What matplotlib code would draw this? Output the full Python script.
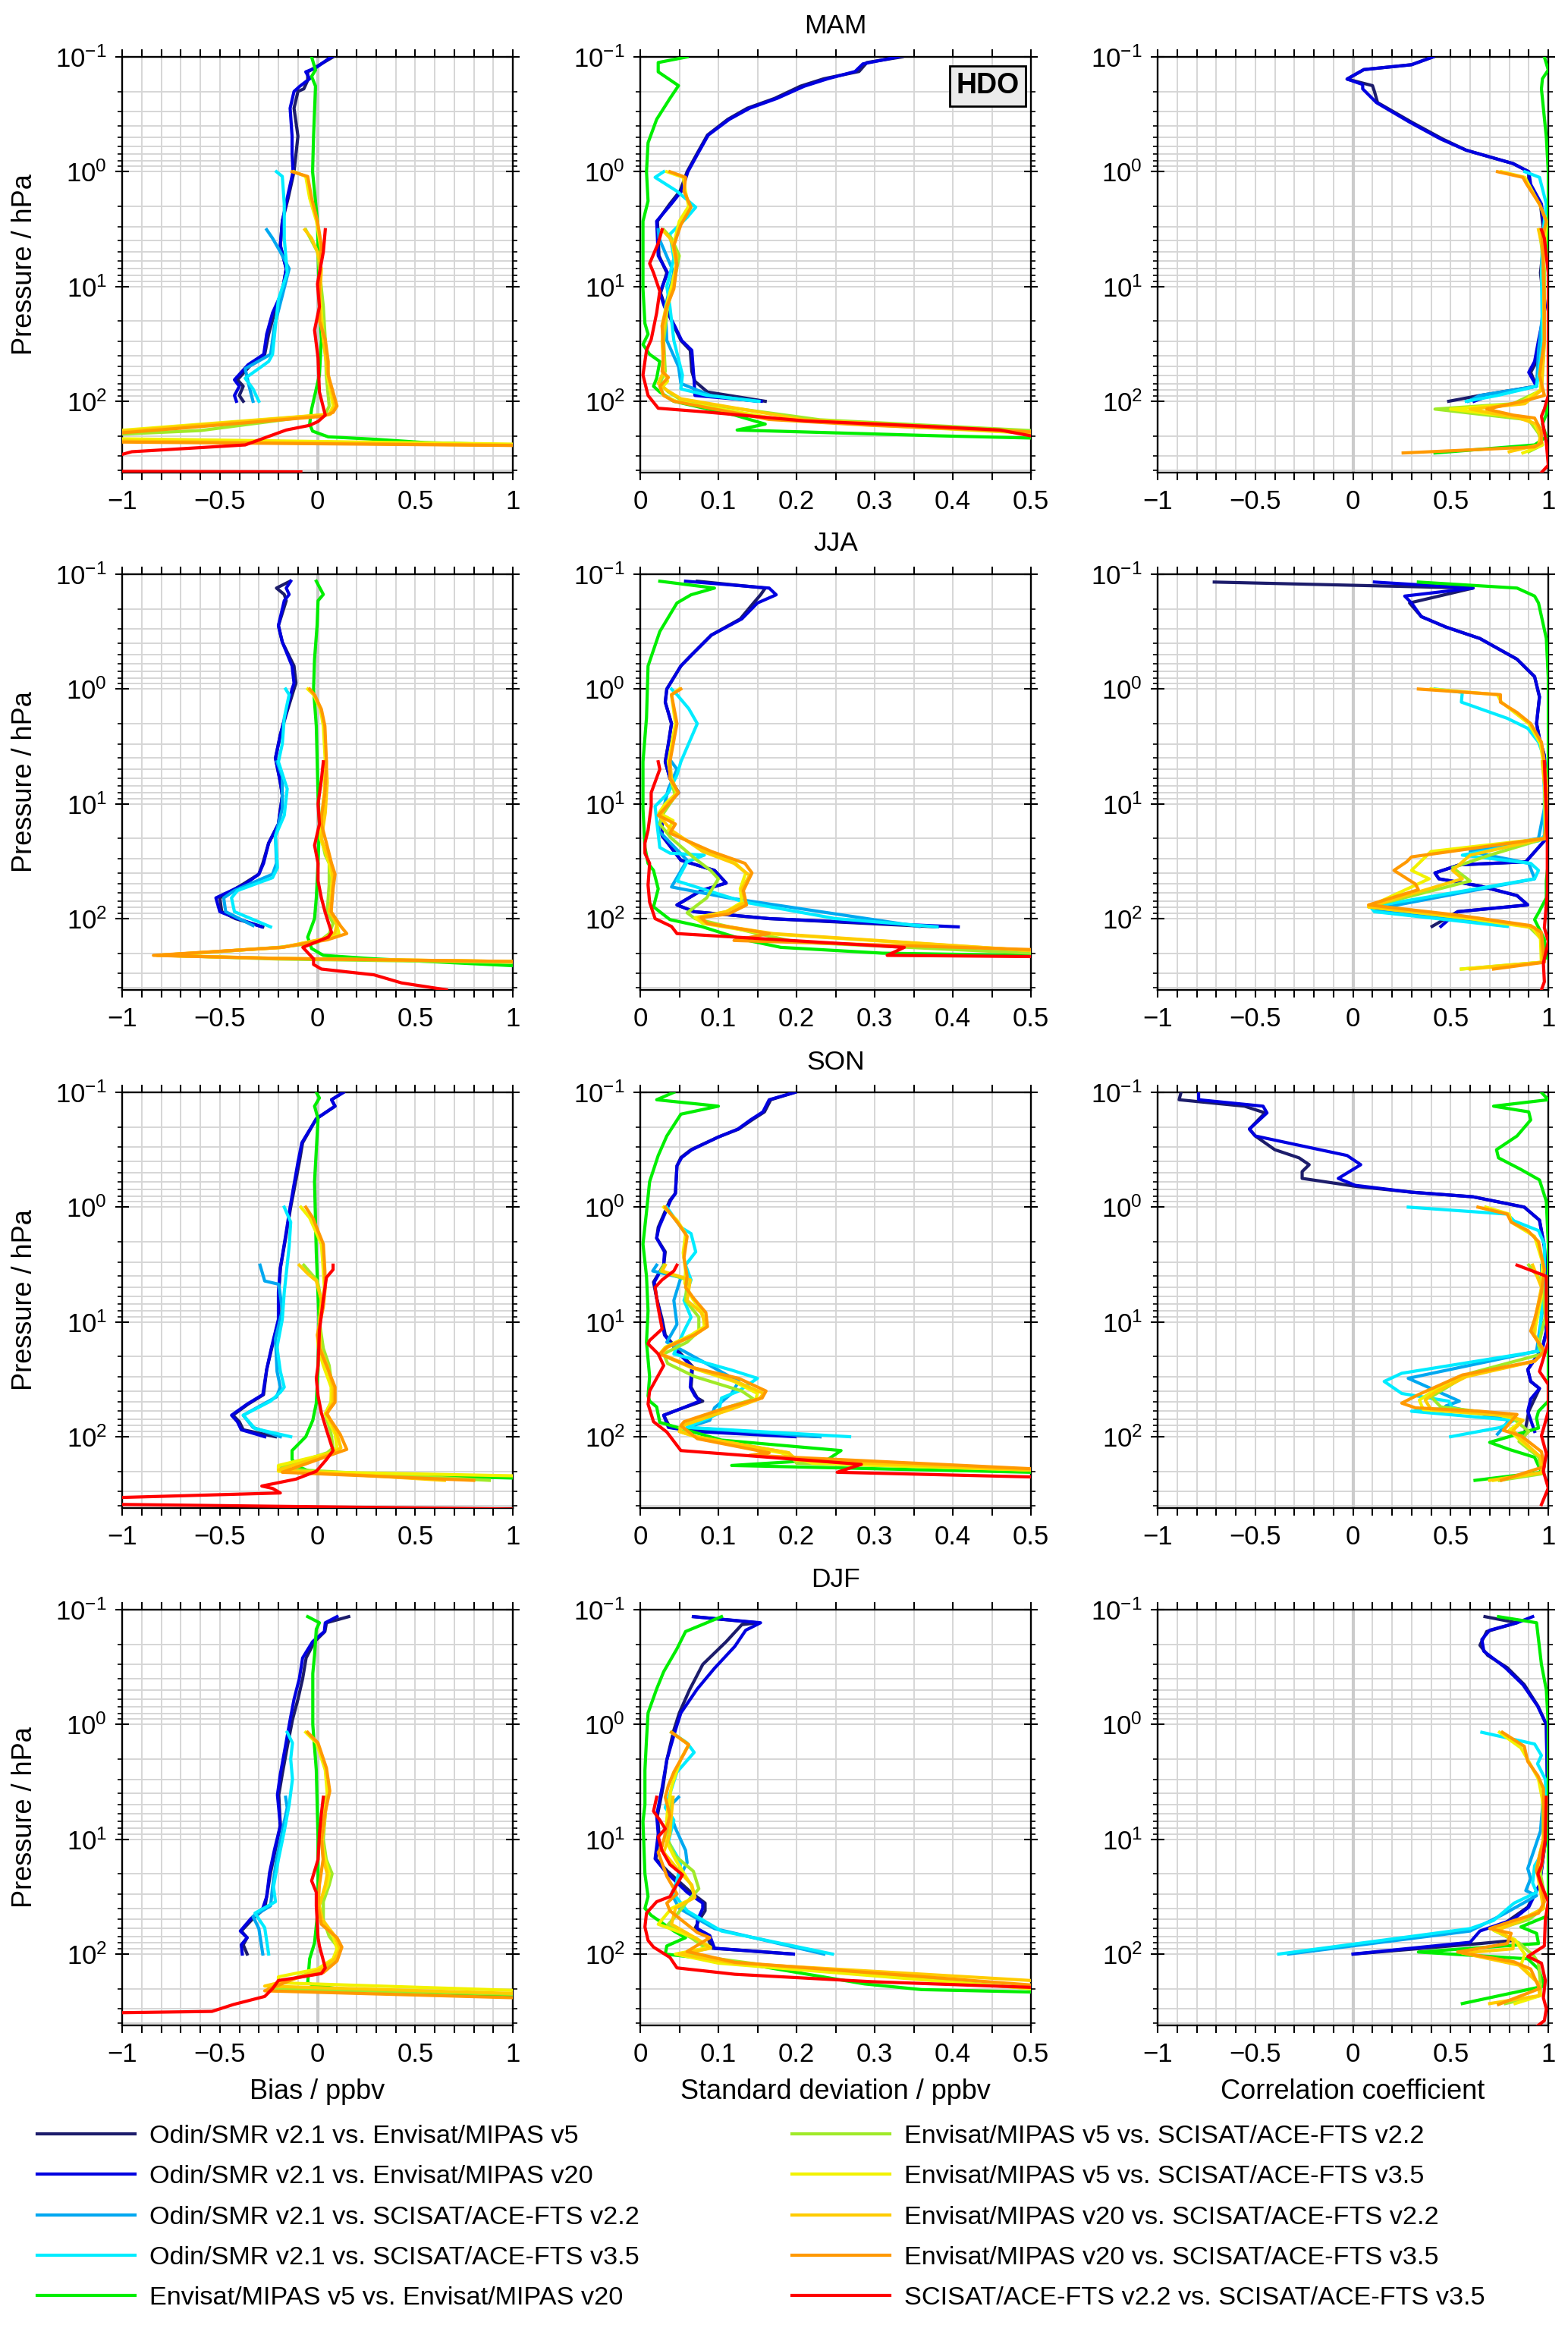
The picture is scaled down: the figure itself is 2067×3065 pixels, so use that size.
import matplotlib
matplotlib.use("Agg")
import matplotlib.pyplot as plt
from matplotlib.ticker import MultipleLocator, FixedLocator, FuncFormatter, LogFormatterMathtext, NullFormatter

plt.rcParams["font.family"] = ["Liberation Sans", "DejaVu Sans"]
plt.rcParams["mathtext.fontset"] = "custom"
plt.rcParams["mathtext.rm"] = "Liberation Sans"
plt.rcParams["mathtext.it"] = "Liberation Sans:italic"
plt.rcParams["mathtext.bf"] = "Liberation Sans:bold"

seasons = ["MAM", "JJA", "SON", "DJF"]
xlabels = ["Bias / ppbv", "Standard deviation / ppbv", "Correlation coefficient"]
series_labels = [
    "Odin/SMR v2.1 vs. Envisat/MIPAS v5",
    "Odin/SMR v2.1 vs. Envisat/MIPAS v20",
    "Odin/SMR v2.1 vs. SCISAT/ACE-FTS v2.2",
    "Odin/SMR v2.1 vs. SCISAT/ACE-FTS v3.5",
    "Envisat/MIPAS v5 vs. Envisat/MIPAS v20",
    "Envisat/MIPAS v5 vs. SCISAT/ACE-FTS v2.2",
    "Envisat/MIPAS v5 vs. SCISAT/ACE-FTS v3.5",
    "Envisat/MIPAS v20 vs. SCISAT/ACE-FTS v2.2",
    "Envisat/MIPAS v20 vs. SCISAT/ACE-FTS v3.5",
    "SCISAT/ACE-FTS v2.2 vs. SCISAT/ACE-FTS v3.5",
]
series_colors = ["#1c1c6b", "#0000e0", "#00a8f0", "#00ecff", "#00ee00",
                 "#a0ea28", "#f2f200", "#ffcc00", "#ff9900", "#ff0000"]

# each curve: (pressure hPa, value) pairs, series order as in the legend
mam_bias = [
    [(0.1, 0.08), (0.135, -0.05), (0.16, -0.05), (0.19, -0.07), (0.2, -0.1), (0.28, -0.12), (0.49, -0.1), (0.7, -0.11), (1, -0.12), (1.7, -0.15), (2.7, -0.18), (4.4, -0.19), (7, -0.16), (11, -0.18), (17, -0.22), (26, -0.25), (39, -0.27), (48, -0.34), (65, -0.41), (74, -0.38), (89, -0.40), (100, -0.38)],
    [(0.1, 0.07), (0.125, -0.01), (0.135, -0.06), (0.155, -0.04), (0.18, -0.09), (0.2, -0.12), (0.28, -0.14), (0.49, -0.13), (0.7, -0.13), (1, -0.125), (1.7, -0.155), (2.7, -0.18), (4.4, -0.19), (7, -0.16), (11, -0.18), (17, -0.23), (26, -0.26), (39, -0.275), (48, -0.355), (65, -0.425), (74, -0.40), (89, -0.425), (100, -0.415)],
    [(3.2, -0.26), (3.8, -0.23), (5, -0.19), (7, -0.145), (12, -0.18), (22, -0.22), (39, -0.24), (52, -0.37), (74, -0.35), (100, -0.33)],
    [(1, -0.21), (1.1, -0.18), (1.9, -0.17), (3.8, -0.17), (7.6, -0.155), (13, -0.2), (22, -0.215), (39, -0.23), (45, -0.25), (63, -0.37), (78, -0.33), (100, -0.30)],
    [(0.1, -0.03), (0.13, -0.01), (0.148, -0.03), (0.18, -0.01), (0.49, -0.02), (1, -0.025), (2.7, 0.0), (15, 0.01), (29, 0.02), (59, 0.01), (117, -0.03), (158, -0.04), (182, -0.025), (204, 0.055), (214, 0.29), (229, 0.55), (240, 1.0), (245, 1.3)],
    [(3.2, -0.06), (5, 0.0), (15, 0.03), (29, 0.04), (59, 0.045), (110, 0.06), (130, 0.04), (180, -0.6), (200, -1.2), (215, -1.2), (245, 1.3)],
    [(1, -0.12), (1.1, -0.06), (1.7, -0.04), (2.7, -0.005), (5, 0.02), (10, 0.01), (29, 0.03), (45, 0.045), (59, 0.05), (110, 0.08), (130, 0.06), (190, -1.2), (210, -1.2), (240, 1.3)],
    [(3.2, -0.065), (3.8, -0.03), (5, 0.0), (7, 0.02), (15, 0.01), (29, 0.03), (45, 0.045), (59, 0.055), (110, 0.09), (130, 0.065), (195, -1.2), (220, -1.2), (245, 1.3)],
    [(1, -0.13), (1.1, -0.05), (1.7, -0.03), (2.7, 0.0), (4.4, 0.02), (10, 0.01), (20, 0.01), (29, 0.04), (45, 0.055), (59, 0.055), (110, 0.1), (125, 0.08), (135, 0.03), (170, -0.67), (200, -1.2), (225, -1.2), (245, 1.3)],
    [(3.2, 0.04), (5, 0.03), (9.5, 0.0), (15, 0.01), (24, -0.015), (42, 0.003), (83, 0.01), (132, 0.04), (150, 0.003), (162, -0.04), (178, -0.16), (240, -0.37), (275, -0.95), (290, -1.0), (300, -1.3), (395, -1.3), (408, -1.0), (412, -0.085)],
]
mam_std = [
    [(0.1, 0.335), (0.112, 0.29), (0.134, 0.28), (0.155, 0.235), (0.18, 0.205), (0.23, 0.172), (0.28, 0.137), (0.35, 0.112), (0.48, 0.086), (0.69, 0.073), (1, 0.06), (1.47, 0.051), (1.9, 0.038), (2.7, 0.022), (3.8, 0.023), (5.4, 0.024), (7.6, 0.034), (11.4, 0.026), (15, 0.032), (22, 0.043), (29.5, 0.052), (36, 0.064), (55, 0.066), (67, 0.07), (83, 0.086), (100, 0.16)],
    [(0.1, 0.33), (0.115, 0.285), (0.134, 0.275), (0.155, 0.24), (0.18, 0.21), (0.23, 0.175), (0.28, 0.14), (0.35, 0.114), (0.48, 0.087), (0.69, 0.074), (1, 0.061), (1.47, 0.053), (1.9, 0.04), (2.7, 0.021), (3.8, 0.022), (5.4, 0.023), (7.6, 0.035), (11.4, 0.025), (15, 0.031), (22, 0.044), (29.5, 0.053), (36, 0.066), (55, 0.068), (67, 0.069), (89, 0.07), (100, 0.155)],
    [(3.2, 0.023), (3.8, 0.024), (7.6, 0.043), (15, 0.032), (29.5, 0.034), (50, 0.049), (70, 0.052), (89, 0.09), (100, 0.148)],
    [(1, 0.03), (1.12, 0.019), (1.48, 0.047), (2.04, 0.071), (2.5, 0.06), (3.5, 0.038), (5.7, 0.043), (10, 0.034), (15, 0.038), (29.5, 0.043), (59, 0.054), (78, 0.052), (89, 0.086), (100, 0.152)],
    [(0.1, 0.06), (0.112, 0.023), (0.135, 0.023), (0.178, 0.049), (0.23, 0.038), (0.35, 0.021), (0.56, 0.01), (1, 0.008), (1.8, 0.01), (2.7, 0.0035), (10.5, 0.0035), (21, 0.006), (26, 0.01), (32, 0.0035), (39, 0.012), (45, 0.025), (63, 0.021), (74, 0.017), (83, 0.025), (100, 0.043), (132, 0.121), (158, 0.16), (178, 0.124), (200, 0.383), (209, 0.5), (215, 0.6)],
    [(3.2, 0.03), (3.8, 0.04), (5.4, 0.05), (10, 0.042), (15, 0.035), (30, 0.03), (55, 0.032), (70, 0.025), (83, 0.036), (100, 0.055), (145, 0.23), (180, 0.5), (190, 0.6)],
    [(1, 0.034), (1.12, 0.055), (1.5, 0.058), (2.0, 0.062), (2.7, 0.05), (4.5, 0.042), (6.5, 0.046), (10, 0.04), (15, 0.033), (22, 0.028), (37, 0.03), (55, 0.03), (67, 0.035), (78, 0.026), (89, 0.03), (100, 0.046), (144, 0.18), (165, 0.33), (190, 0.5), (200, 0.6)],
    [(3.2, 0.028), (3.8, 0.038), (5.4, 0.047), (10, 0.043), (15, 0.034), (30, 0.028), (55, 0.03), (70, 0.023), (80, 0.034), (95, 0.052), (145, 0.21), (185, 0.5), (195, 0.6)],
    [(1, 0.038), (1.12, 0.058), (1.48, 0.056), (2.04, 0.065), (2.9, 0.052), (4.4, 0.043), (6.5, 0.047), (10.5, 0.043), (15, 0.034), (22, 0.028), (37, 0.03), (55, 0.028), (62, 0.036), (74, 0.025), (89, 0.03), (100, 0.043), (144, 0.165), (162, 0.296), (185, 0.5), (195, 0.6)],
    [(3.2, 0.028), (4.2, 0.023), (6.3, 0.012), (7.6, 0.017), (11, 0.025), (17, 0.021), (29, 0.014), (36, 0.008), (59, 0.0035), (89, 0.01), (115, 0.023), (123, 0.078), (148, 0.21), (162, 0.34), (178, 0.46), (200, 0.5), (210, 0.55)],
]
mam_corr = [
    [(0.1, 0.41), (0.117, 0.30), (0.129, 0.056), (0.156, -0.03), (0.178, 0.1), (0.2, 0.11), (0.25, 0.126), (0.37, 0.30), (0.52, 0.46), (0.65, 0.58), (0.85, 0.82), (1, 0.90), (1.29, 0.90), (1.91, 0.96), (3.8, 0.98), (7.6, 0.96), (15, 0.98), (29.5, 0.96), (45, 0.94), (56, 0.91), (74, 0.94), (89, 0.65), (100, 0.49)],
    [(0.1, 0.41), (0.117, 0.3), (0.129, 0.056), (0.156, -0.03), (0.174, 0.05), (0.19, 0.05), (0.25, 0.12), (0.37, 0.29), (0.52, 0.45), (0.65, 0.58), (0.85, 0.82), (1, 0.9), (1.29, 0.91), (1.91, 0.965), (3.8, 0.985), (7.6, 0.965), (15, 0.985), (29.5, 0.95), (45, 0.93), (56, 0.90), (74, 0.94), (89, 0.7), (100, 0.62)],
    [(3.2, 0.965), (5, 0.97), (15, 0.975), (36, 0.95), (74, 0.94), (89, 0.65), (100, 0.59)],
    [(1, 0.88), (1.12, 0.955), (1.91, 0.99), (3.8, 0.97), (7.6, 0.965), (29.5, 0.97), (59, 0.95), (74, 0.94), (89, 0.74), (100, 0.58)],
    [(0.1, 0.98), (0.13, 1.0), (0.155, 0.97), (0.19, 0.965), (0.5, 0.99), (1, 1.0), (100, 1.0), (130, 0.99), (158, 0.97), (204, 0.99), (240, 0.93), (282, 0.42)],
    [(3.2, 0.955), (7, 0.98), (30, 0.98), (80, 0.965), (105, 0.82), (117, 0.42), (145, 0.9), (190, 0.95), (240, 0.97), (275, 0.9)],
    [(1, 0.76), (1.12, 0.88), (1.5, 0.92), (2, 0.96), (2.7, 0.99), (7, 0.975), (30, 0.98), (80, 0.96), (105, 0.85), (117, 0.5), (140, 0.88), (158, 0.93), (200, 0.96), (240, 0.97), (282, 0.87)],
    [(3.2, 0.95), (5, 0.975), (30, 0.98), (80, 0.965), (105, 0.88), (117, 0.6), (140, 0.85), (158, 0.94), (200, 0.96), (240, 0.95), (275, 0.8)],
    [(1, 0.74), (1.12, 0.87), (1.29, 0.89), (1.91, 0.955), (2.7, 0.99), (3.8, 0.97), (15, 0.98), (29.5, 0.98), (59, 0.955), (89, 0.98), (100, 0.87), (117, 0.685), (132, 0.82), (140, 0.93), (182, 0.965), (230, 0.965), (250, 0.93), (282, 0.257)],
    [(3.2, 0.965), (3.8, 0.98), (7.6, 1.0), (89, 1.0), (117, 0.98), (135, 0.965), (230, 0.99), (360, 1.0), (418, 0.965)],
]

jja_bias = [
    [(0.115, -0.14), (0.132, -0.21), (0.15, -0.17), (0.17, -0.16), (0.28, -0.2), (0.39, -0.18), (0.63, -0.12), (0.89, -0.11), (1, -0.12), (1.66, -0.16), (2.5, -0.19), (4, -0.215), (6.5, -0.19), (8.5, -0.18), (15, -0.2), (22, -0.25), (33, -0.28), (41, -0.3), (50, -0.38), (66, -0.5), (87, -0.49), (100, -0.42), (118, -0.28)],
    [(0.115, -0.137), (0.132, -0.16), (0.15, -0.145), (0.17, -0.17), (0.28, -0.2), (0.39, -0.18), (0.63, -0.13), (0.89, -0.12), (1, -0.13), (1.66, -0.163), (2.5, -0.19), (4, -0.215), (6.5, -0.19), (8.5, -0.18), (15, -0.2), (22, -0.25), (33, -0.276), (41, -0.3), (50, -0.37), (66, -0.52), (87, -0.50), (100, -0.41), (118, -0.285)],
    [(4.3, -0.207), (5.8, -0.18), (11, -0.18), (19, -0.215), (33, -0.21), (41, -0.23), (57, -0.425), (66, -0.48), (87, -0.47), (115, -0.33)],
    [(1, -0.163), (1.12, -0.145), (1.78, -0.17), (3, -0.18), (4.3, -0.2), (7.4, -0.155), (12.6, -0.17), (19, -0.215), (36, -0.205), (44, -0.23), (57, -0.41), (66, -0.44), (87, -0.425), (118, -0.24)],
    [(0.115, -0.006), (0.15, 0.03), (0.17, 0.003), (0.28, -0.002), (0.55, -0.015), (1, -0.02), (2.1, -0.006), (8.5, 0.003), (15, 0.01), (33, 0.003), (66, -0.006), (100, -0.015), (145, -0.05), (182, -0.03), (209, 0.03), (224, 0.29), (257, 1.0), (265, 1.3)],
    [(4.3, 0.04), (6.5, 0.045), (12, 0.035), (20, 0.02), (28, 0.04), (33, 0.06), (50, 0.06), (87, 0.05), (110, 0.08), (135, 0.06), (162, 0.0), (178, -0.2), (209, -0.78), (225, -0.2), (245, 1.3)],
    [(1, -0.05), (1.12, -0.02), (1.5, 0.015), (2.1, 0.03), (4.3, 0.04), (8, 0.035), (14, 0.02), (20, 0.015), (26, 0.04), (33, 0.06), (44, 0.075), (62, 0.07), (87, 0.07), (115, 0.10), (135, 0.11), (150, 0.04), (178, -0.18), (209, -0.82), (222, -0.2), (240, 1.3)],
    [(4.3, 0.045), (6.5, 0.05), (12, 0.04), (20, 0.02), (28, 0.05), (33, 0.07), (44, 0.08), (62, 0.075), (87, 0.06), (110, 0.1), (132, 0.09), (150, 0.03), (178, -0.18), (209, -0.82), (222, -0.2), (240, 1.3)],
    [(1, -0.04), (1.12, -0.015), (1.5, 0.02), (2.1, 0.038), (4.3, 0.046), (8, 0.038), (13, 0.02), (15, 0.02), (22, 0.046), (33, 0.072), (41, 0.09), (55, 0.08), (87, 0.07), (117, 0.12), (135, 0.15), (153, 0.05), (178, -0.18), (209, -0.84), (222, -0.23), (240, 1.3)],
    [(4.3, 0.03), (6.2, 0.02), (10, 0.003), (15, 0.01), (23, -0.015), (33, 0.003), (47, 0.003), (66, 0.02), (89, 0.04), (132, 0.072), (145, 0.055), (178, -0.075), (224, -0.02), (251, -0.02), (275, 0.02), (309, 0.29), (363, 0.43), (417, 0.66)],
]
jja_std = [
    [(0.115, 0.073), (0.132, 0.16), (0.151, 0.154), (0.178, 0.145), (0.245, 0.128), (0.339, 0.091), (0.51, 0.065), (0.63, 0.052), (1, 0.034), (1.3, 0.032), (2, 0.04), (3, 0.036), (4.3, 0.032), (6, 0.038), (8, 0.049), (9.5, 0.038), (12, 0.028), (19, 0.028), (31, 0.052), (38, 0.095), (49, 0.11), (57, 0.078), (76, 0.047), (87, 0.069), (100, 0.165), (118, 0.38)],
    [(0.115, 0.058), (0.132, 0.165), (0.151, 0.174), (0.178, 0.15), (0.245, 0.13), (0.339, 0.091), (0.51, 0.065), (0.63, 0.052), (1, 0.034), (1.3, 0.032), (2, 0.04), (3, 0.036), (4.3, 0.032), (6, 0.038), (8, 0.049), (9.5, 0.038), (12, 0.028), (19, 0.028), (31, 0.052), (38, 0.095), (49, 0.11), (57, 0.078), (76, 0.047), (87, 0.069), (100, 0.165), (118, 0.407)],
    [(4.3, 0.04), (5, 0.047), (7.4, 0.036), (17, 0.023), (31, 0.06), (53, 0.04), (66, 0.113), (117, 0.357)],
    [(1, 0.04), (1.12, 0.047), (1.48, 0.062), (2, 0.073), (4.3, 0.052), (5.6, 0.047), (8, 0.036), (10.5, 0.019), (14, 0.021), (24, 0.025), (26.9, 0.038), (28, 0.082), (32, 0.06), (47, 0.047), (72, 0.134), (100, 0.25), (118, 0.38)],
    [(0.115, 0.025), (0.132, 0.095), (0.151, 0.065), (0.178, 0.047), (0.316, 0.025), (0.63, 0.01), (1.78, 0.008), (4.3, 0.0035), (11, 0.0035), (24, 0.006), (33, 0.01), (38, 0.017), (55, 0.023), (79, 0.017), (102, 0.038), (117, 0.078), (151, 0.13), (178, 0.18), (200, 0.31), (209, 0.5), (220, 0.6)],
    [(4.3, 0.036), (6.5, 0.04), (8.5, 0.045), (12, 0.03), (15, 0.025), (20, 0.04), (30, 0.07), (38, 0.09), (45, 0.1), (66, 0.085), (89, 0.06), (100, 0.07), (135, 0.15), (160, 0.2), (200, 0.5), (210, 0.6)],
    [(1, 0.05), (1.12, 0.04), (2, 0.045), (4.3, 0.036), (6.5, 0.04), (8, 0.047), (10, 0.032), (12, 0.024), (14, 0.042), (17, 0.036), (26, 0.085), (33, 0.122), (40, 0.135), (55, 0.128), (72, 0.13), (87, 0.11), (98, 0.07), (110, 0.08), (135, 0.16), (190, 0.5), (200, 0.6)],
    [(4.3, 0.038), (6, 0.04), (8, 0.048), (10, 0.035), (13, 0.025), (17, 0.04), (26, 0.08), (33, 0.12), (42, 0.14), (55, 0.13), (72, 0.135), (87, 0.11), (98, 0.075), (110, 0.085), (135, 0.17), (190, 0.5), (200, 0.6)],
    [(1, 0.052), (1.12, 0.04), (2, 0.047), (4.3, 0.038), (6, 0.038), (8, 0.049), (10.5, 0.034), (12.6, 0.023), (15, 0.045), (18, 0.038), (26, 0.091), (33, 0.134), (40, 0.143), (57, 0.132), (76, 0.136), (91, 0.113), (98, 0.078), (110, 0.086), (135, 0.165), (155, 0.12), (186, 0.5), (195, 0.6)],
    [(4.3, 0.023), (5, 0.025), (8, 0.014), (10.5, 0.014), (17, 0.01), (22, 0.006), (27, 0.006), (33, 0.012), (51, 0.01), (72, 0.012), (100, 0.019), (117, 0.04), (135, 0.047), (151, 0.165), (178, 0.338), (209, 0.316), (214, 0.5), (220, 0.6)],
]
jja_corr = [
    [(0.117, -0.71), (0.132, 0.615), (0.178, 0.29), (0.234, 0.35), (0.288, 0.475), (0.363, 0.65), (0.55, 0.84), (0.78, 0.93), (1.17, 0.955), (2, 0.94), (2.7, 0.955), (3.8, 0.98), (8, 0.99), (15, 0.99), (21, 0.98), (32, 0.885), (34, 0.545), (40, 0.42), (45, 0.44), (52, 0.65), (63, 0.84), (76, 0.895), (87, 0.536), (117, 0.405)],
    [(0.117, 0.11), (0.132, 0.615), (0.155, 0.265), (0.178, 0.30), (0.234, 0.35), (0.288, 0.475), (0.363, 0.65), (0.55, 0.84), (0.78, 0.93), (1.17, 0.955), (2, 0.94), (2.7, 0.955), (3.8, 0.98), (8, 0.99), (15, 0.99), (21, 0.98), (32, 0.885), (34, 0.545), (40, 0.42), (45, 0.44), (52, 0.65), (63, 0.84), (76, 0.895), (87, 0.536), (117, 0.45)],
    [(4.3, 0.975), (10, 0.985), (20, 0.95), (26, 0.6), (33, 0.9), (45, 0.93), (83, 0.11), (115, 0.77)],
    [(1, 0.42), (1.07, 0.56), (1.3, 0.555), (1.8, 0.79), (2.2, 0.895), (2.9, 0.95), (3.8, 0.975), (8, 0.98), (19, 0.98), (21, 0.95), (28, 0.56), (33, 0.91), (38, 0.95), (45, 0.93), (79, 0.09), (87, 0.11), (117, 0.79)],
    [(0.117, 0.335), (0.132, 0.84), (0.155, 0.93), (0.178, 0.95), (0.363, 0.99), (0.8, 1.0), (32, 1.0), (47, 0.99), (66, 0.99), (89, 0.95), (102, 0.93), (151, 0.98), (220, 0.99)],
    [(4.3, 0.97), (10, 0.99), (20, 0.985), (28, 0.7), (36, 0.51), (47, 0.6), (79, 0.08), (100, 0.6), (117, 0.9), (150, 0.965), (240, 0.965), (275, 0.555)],
    [(1, 0.4), (1.12, 0.74), (1.3, 0.76), (2, 0.9), (3, 0.96), (5, 0.98), (20, 0.985), (26, 0.4), (38, 0.3), (45, 0.39), (79, 0.08), (100, 0.6), (120, 0.92), (150, 0.96), (240, 0.965), (275, 0.555)],
    [(4.3, 0.97), (10, 0.99), (20, 0.985), (28, 0.6), (38, 0.51), (45, 0.56), (79, 0.08), (100, 0.65), (120, 0.93), (150, 0.965), (240, 0.97), (275, 0.6)],
    [(1, 0.335), (1.12, 0.755), (1.3, 0.755), (1.6, 0.84), (2, 0.91), (2.9, 0.965), (4.3, 0.98), (10, 1.0), (20, 0.98), (29, 0.30), (32, 0.275), (38, 0.21), (50, 0.32), (56, 0.335), (76, 0.08), (93, 0.53), (115, 0.91), (132, 0.965), (240, 0.98), (275, 0.72)],
    [(4.3, 0.98), (20, 0.995), (60, 0.995), (120, 0.98), (158, 1.0), (245, 0.975), (355, 0.98), (417, 0.965)],
]

son_bias = [
    [(0.1, 0.133), (0.116, 0.072), (0.132, 0.09), (0.17, -0.006), (0.275, -0.076), (0.407, -0.093), (0.71, -0.12), (1, -0.137), (1.86, -0.163), (3.4, -0.19), (5.5, -0.198), (9.5, -0.198), (16.6, -0.233), (26, -0.26), (43, -0.276), (52, -0.355), (65, -0.433), (74, -0.40), (87, -0.38), (100, -0.215)],
    [(0.1, 0.133), (0.116, 0.072), (0.132, 0.09), (0.17, -0.006), (0.275, -0.08), (0.407, -0.1), (0.71, -0.125), (1, -0.14), (1.86, -0.165), (3.4, -0.19), (5.5, -0.2), (9.5, -0.2), (16.6, -0.235), (26, -0.26), (43, -0.28), (52, -0.36), (65, -0.44), (74, -0.41), (87, -0.39), (100, -0.27)],
    [(3.2, -0.294), (4.4, -0.27), (4.7, -0.198), (7.9, -0.18), (14, -0.215), (27, -0.207), (37, -0.19), (45, -0.21), (65, -0.38), (83, -0.33), (100, -0.19)],
    [(1, -0.17), (1.35, -0.137), (2.2, -0.145), (5.5, -0.17), (9.5, -0.18), (16.6, -0.207), (27, -0.19), (37, -0.17), (41, -0.19), (49, -0.24), (65, -0.38), (85, -0.32), (100, -0.137)],
    [(0.1, -0.006), (0.112, 0.01), (0.132, -0.015), (0.17, 0.003), (0.6, -0.015), (2.5, -0.006), (9.5, 0.008), (26, 0.003), (51, -0.006), (72, -0.024), (100, -0.06), (132, -0.13), (158, -0.13), (182, -0.1), (200, -0.04), (209, 0.046), (229, 1.0), (235, 1.3)],
    [(3.2, -0.07), (4.4, 0.0), (6.5, 0.02), (10, 0.01), (17, 0.03), (24, 0.06), (37, 0.075), (50, 0.07), (63, 0.04), (95, 0.07), (125, 0.08), (138, 0.05), (190, -0.2), (240, 0.88)],
    [(1, -0.085), (1.24, -0.04), (2.1, 0.02), (3.6, 0.03), (5, 0.035), (7.4, 0.025), (13, 0.0), (17, 0.005), (24, 0.03), (37, 0.07), (50, 0.07), (63, 0.04), (95, 0.09), (125, 0.1), (138, 0.07), (178, -0.2), (200, -0.2), (224, 1.3)],
    [(3.2, -0.093), (3.8, -0.05), (4.4, -0.006), (6.5, 0.02), (10, 0.01), (17, 0.015), (24, 0.05), (37, 0.08), (50, 0.08), (63, 0.05), (95, 0.1), (125, 0.12), (138, 0.08), (195, -0.2), (240, 0.65)],
    [(1, -0.06), (1.24, -0.024), (2.1, 0.03), (3.6, 0.038), (5, 0.04), (7.4, 0.03), (13, 0.0), (17, 0.01), (24, 0.046), (37, 0.09), (50, 0.09), (63, 0.046), (95, 0.116), (129, 0.15), (138, 0.1), (204, -0.18), (240, 0.8)],
    [(3.2, 0.08), (3.5, 0.08), (4.1, 0.046), (6.3, 0.03), (12, 0.01), (24, 0.003), (31, -0.006), (44, 0.003), (62, 0.02), (87, 0.046), (132, 0.08), (158, 0.046), (200, -0.006), (234, -0.11), (269, -0.285), (282, -0.23), (309, -0.19), (340, -1.05), (345, -1.3), (385, -1.3), (389, -1.0), (427, 1.0)],
]
son_std = [
    [(0.1, 0.198), (0.116, 0.167), (0.148, 0.159), (0.174, 0.143), (0.209, 0.126), (0.245, 0.1), (0.316, 0.065), (0.37, 0.052), (0.437, 0.047), (0.76, 0.045), (0.87, 0.038), (1.5, 0.023), (1.86, 0.021), (2.45, 0.032), (3.2, 0.03), (4.5, 0.017), (6.2, 0.021), (9.5, 0.028), (13, 0.032), (19, 0.052), (24.5, 0.067), (37, 0.065), (46, 0.073), (49, 0.08), (57, 0.052), (65, 0.03), (83, 0.038), (90, 0.086), (100, 0.23)],
    [(0.1, 0.198), (0.116, 0.165), (0.148, 0.157), (0.174, 0.141), (0.209, 0.125), (0.245, 0.1), (0.316, 0.066), (0.37, 0.053), (0.437, 0.047), (0.76, 0.045), (0.87, 0.039), (1.5, 0.024), (1.86, 0.021), (2.45, 0.031), (3.2, 0.03), (4.5, 0.018), (6.2, 0.021), (9.5, 0.027), (13, 0.031), (19, 0.05), (24.5, 0.066), (37, 0.064), (44, 0.07), (49, 0.076), (57, 0.052), (65, 0.03), (83, 0.036), (90, 0.07), (100, 0.198)],
    [(3.2, 0.021), (3.6, 0.016), (4.1, 0.052), (6.5, 0.043), (10.5, 0.047), (15, 0.034), (18, 0.056), (33, 0.126), (42, 0.117), (56, 0.095), (72, 0.089), (83, 0.06), (100, 0.23)],
    [(1, 0.034), (1.5, 0.052), (1.7, 0.065), (2.45, 0.071), (3.2, 0.058), (4.3, 0.065), (6.5, 0.056), (9.1, 0.065), (12, 0.056), (19, 0.043), (26.3, 0.117), (31, 0.15), (40, 0.126), (46, 0.104), (63, 0.1), (83, 0.06), (100, 0.268)],
    [(0.1, 0.043), (0.116, 0.021), (0.132, 0.1), (0.155, 0.052), (0.24, 0.034), (0.355, 0.023), (0.6, 0.012), (1.1, 0.008), (2.1, 0.0035), (4, 0.008), (8, 0.01), (15, 0.008), (30, 0.012), (44, 0.01), (49, 0.012), (55, 0.021), (75, 0.025), (107, 0.104), (132, 0.257), (158, 0.24), (178, 0.117), (204, 0.5), (210, 0.6)],
    [(3.2, 0.03), (3.6, 0.026), (4.3, 0.06), (6.5, 0.058), (9.1, 0.075), (12, 0.075), (15, 0.06), (19, 0.03), (23, 0.035), (30, 0.07), (40, 0.13), (47, 0.145), (59, 0.1), (83, 0.05), (100, 0.07), (138, 0.19), (170, 0.2), (195, 0.5), (200, 0.6)],
    [(1, 0.03), (1.3, 0.047), (1.7, 0.058), (2.5, 0.055), (3.6, 0.058), (4.6, 0.057), (6.3, 0.067), (8.3, 0.08), (11, 0.082), (13, 0.065), (16.6, 0.032), (19, 0.025), (25, 0.065), (33, 0.12), (42, 0.15), (47, 0.148), (59, 0.11), (80, 0.055), (90, 0.05), (100, 0.07), (138, 0.18), (170, 0.22), (195, 0.5), (200, 0.6)],
    [(3.2, 0.032), (3.6, 0.028), (4.3, 0.064), (6.5, 0.06), (8.3, 0.078), (11, 0.085), (13, 0.07), (16.6, 0.035), (19, 0.027), (25, 0.068), (33, 0.123), (42, 0.158), (47, 0.152), (59, 0.112), (80, 0.053), (90, 0.05), (100, 0.072), (138, 0.19), (160, 0.2), (195, 0.5), (200, 0.6)],
    [(1, 0.032), (1.4, 0.049), (1.8, 0.06), (2.75, 0.056), (4, 0.06), (5, 0.058), (6.3, 0.069), (8.3, 0.084), (11, 0.086), (13, 0.069), (16.6, 0.034), (19, 0.025), (25, 0.067), (31, 0.126), (40, 0.161), (46, 0.156), (55, 0.113), (74, 0.056), (80, 0.052), (104, 0.073), (138, 0.165), (145, 0.14), (190, 0.5), (195, 0.6)],
    [(3.2, 0.047), (3.6, 0.043), (4.3, 0.028), (5, 0.019), (7.6, 0.023), (11.5, 0.028), (14.5, 0.012), (15.5, 0.01), (19, 0.023), (24, 0.03), (31, 0.021), (40, 0.012), (52, 0.01), (74, 0.017), (91, 0.034), (132, 0.052), (174, 0.283), (204, 0.252), (224, 0.5), (230, 0.55)],
]
son_corr = [
    [(0.1, -0.88), (0.116, -0.89), (0.132, -0.555), (0.151, -0.45), (0.209, -0.53), (0.24, -0.5), (0.316, -0.4), (0.372, -0.276), (0.427, -0.224), (0.49, -0.26), (0.562, -0.26), (0.661, 0.02), (0.741, 0.30), (0.813, 0.615), (1, 0.877), (1.3, 0.955), (2.2, 0.98), (4.5, 0.99), (12, 0.99), (17, 0.97), (26, 0.895), (33, 0.91), (38, 0.955), (60, 0.9), (98, 0.877)],
    [(0.1, -0.79), (0.116, -0.79), (0.132, -0.46), (0.151, -0.44), (0.209, -0.53), (0.24, -0.5), (0.355, -0.03), (0.427, 0.04), (0.562, -0.075), (0.646, 0.012), (0.741, 0.3), (0.813, 0.615), (1, 0.877), (1.3, 0.955), (2.2, 0.98), (4.5, 0.99), (12, 0.99), (17, 0.97), (26, 0.895), (33, 0.91), (38, 0.955), (47, 0.91), (60, 0.895), (90, 0.93)],
    [(3.2, 0.965), (8, 0.97), (18, 0.94), (31, 0.283), (49, 0.545), (54, 0.475), (72, 0.8), (95, 0.74)],
    [(1, 0.283), (1.15, 0.79), (1.32, 0.825), (1.6, 0.95), (2.1, 0.98), (4.3, 0.98), (8, 0.965), (16, 0.955), (18, 0.95), (28, 0.25), (33, 0.16), (42, 0.25), (49, 0.49), (56, 0.51), (60, 0.3), (72, 0.825), (83, 0.755), (100, 0.50)],
    [(0.1, 0.965), (0.116, 1.0), (0.132, 0.72), (0.148, 0.9), (0.174, 0.91), (0.24, 0.84), (0.316, 0.735), (0.372, 0.745), (0.47, 0.86), (0.58, 0.955), (0.89, 0.99), (2.1, 1.0), (49, 1.0), (60, 0.95), (69, 0.94), (84, 0.95), (112, 0.70), (129, 0.8), (151, 0.93), (204, 0.965), (240, 0.625)],
    [(3.2, 0.9), (4.5, 0.97), (9, 0.985), (16, 0.95), (19, 0.97), (28, 0.6), (45, 0.4), (55, 0.45), (65, 0.8), (90, 0.9), (110, 0.85), (150, 0.95), (210, 0.97), (240, 0.75)],
    [(1, 0.68), (1.15, 0.8), (1.35, 0.81), (1.8, 0.93), (3, 0.97), (6, 0.965), (11, 0.935), (13, 0.93), (18, 0.98), (22, 0.93), (30, 0.55), (41, 0.4), (48, 0.34), (58, 0.36), (65, 0.75), (72, 0.87), (88, 0.8), (105, 0.85), (150, 0.96), (205, 0.97), (240, 0.72)],
    [(3.2, 0.92), (5, 0.965), (10, 0.93), (13, 0.925), (18, 0.98), (22, 0.93), (30, 0.58), (41, 0.42), (48, 0.37), (58, 0.4), (65, 0.78), (72, 0.87), (88, 0.82), (105, 0.86), (150, 0.96), (205, 0.97), (240, 0.7)],
    [(1, 0.64), (1.15, 0.79), (1.35, 0.81), (1.6, 0.895), (2, 0.95), (3.5, 0.98), (5.5, 0.965), (9.5, 0.93), (12, 0.91), (18, 0.98), (22, 0.93), (29, 0.56), (43, 0.335), (51, 0.25), (56, 0.32), (60, 0.65), (64, 0.84), (88, 0.77), (98, 0.86), (135, 0.965), (182, 0.98), (240, 0.76)],
    [(3.2, 0.84), (4, 0.99), (9, 0.99), (15, 1.0), (27, 0.955), (35, 1.0), (60, 1.0), (80, 0.98), (98, 0.965), (140, 0.99), (200, 0.975), (280, 1.0), (390, 0.965)],
]

djf_bias = [
    [(0.115, 0.16), (0.13, 0.046), (0.155, 0.038), (0.19, -0.015), (0.263, -0.058), (0.4, -0.076), (0.603, -0.1), (0.912, -0.128), (1.58, -0.155), (2.7, -0.18), (4.1, -0.198), (7.6, -0.19), (12.3, -0.215), (19.5, -0.24), (31.6, -0.26), (40, -0.27), (49, -0.33), (63, -0.39), (72, -0.36), (83, -0.38), (100, -0.36)],
    [(0.115, 0.1), (0.13, 0.04), (0.155, 0.035), (0.19, -0.025), (0.263, -0.076), (0.4, -0.093), (0.603, -0.12), (0.912, -0.14), (1.58, -0.165), (2.7, -0.19), (4.1, -0.205), (7.6, -0.19), (12.3, -0.22), (19.5, -0.245), (31.6, -0.26), (40, -0.28), (49, -0.34), (63, -0.395), (72, -0.36), (83, -0.39), (100, -0.385)],
    [(4.3, -0.163), (5.3, -0.155), (8.5, -0.18), (15, -0.21), (26, -0.23), (38, -0.24), (47, -0.33), (60, -0.3), (100, -0.28)],
    [(1.17, -0.155), (1.45, -0.128), (2, -0.137), (3, -0.128), (5, -0.145), (8.5, -0.17), (15, -0.2), (26, -0.225), (35, -0.215), (44, -0.32), (59, -0.27), (100, -0.25)],
    [(0.115, -0.05), (0.13, 0.01), (0.148, -0.006), (0.25, -0.015), (0.36, -0.024), (1, -0.024), (2.5, -0.006), (10, 0.003), (40, 0.003), (80, -0.015), (110, -0.04), (178, -0.05), (186, -0.024), (200, 0.1), (214, 0.465), (229, 1.0), (235, 1.3)],
    [(4.3, 0.038), (6, 0.04), (10, 0.03), (15, 0.045), (20, 0.075), (25, 0.06), (35, 0.03), (50, 0.03), (70, 0.06), (90, 0.11), (110, 0.09), (135, 0.03), (158, -0.1), (200, -0.25), (230, 1.3)],
    [(1.17, -0.06), (1.45, -0.005), (2.5, 0.04), (4, 0.05), (6, 0.035), (10, 0.02), (15, 0.04), (20, 0.06), (25, 0.05), (38, 0.003), (50, 0.02), (70, 0.08), (90, 0.1), (110, 0.08), (135, 0.0), (158, -0.2), (178, -0.2), (215, 1.3)],
    [(4.3, 0.05), (6, 0.04), (10, 0.025), (15, 0.03), (20, 0.05), (25, 0.04), (38, 0.01), (50, 0.025), (70, 0.09), (90, 0.115), (110, 0.09), (135, 0.02), (165, -0.12), (190, -0.27), (228, 1.3)],
    [(1.17, -0.05), (1.45, 0.003), (2.4, 0.046), (3.8, 0.063), (6, 0.038), (10, 0.02), (15, 0.029), (25, 0.01), (38, 0.003), (55, 0.02), (72, 0.1), (87, 0.125), (115, 0.1), (145, 0.03), (162, -0.11), (209, -0.27), (240, 1.0), (242, 1.3)],
    [(4.3, 0.03), (6, 0.02), (9, 0.01), (15, 0.003), (23, -0.03), (29, -0.006), (38, -0.006), (72, 0.003), (85, 0.01), (132, 0.04), (148, 0.02), (162, -0.12), (170, -0.2), (200, -0.23), (234, -0.27), (275, -0.43), (316, -0.54), (324, -1.0), (326, -1.3)],
]
djf_std = [
    [(0.115, 0.068), (0.13, 0.15), (0.135, 0.13), (0.19, 0.11), (0.3, 0.08), (0.5, 0.063), (0.794, 0.05), (1.12, 0.043), (2.04, 0.034), (3.55, 0.029), (6.2, 0.022), (9, 0.024), (14.8, 0.02), (19, 0.035), (29, 0.065), (36, 0.083), (42, 0.083), (51, 0.075), (60, 0.07), (69, 0.085), (89, 0.092), (100, 0.196)],
    [(0.115, 0.068), (0.13, 0.154), (0.151, 0.135), (0.209, 0.121), (0.324, 0.095), (0.49, 0.073), (0.794, 0.052), (1.12, 0.045), (2.04, 0.034), (3.55, 0.028), (6.2, 0.021), (9, 0.023), (14.8, 0.019), (19, 0.032), (29, 0.06), (36, 0.08), (40, 0.08), (51, 0.073), (60, 0.073), (69, 0.089), (89, 0.095), (100, 0.196)],
    [(4.3, 0.049), (5.3, 0.036), (8, 0.045), (12.5, 0.058), (16, 0.06), (25, 0.045), (30, 0.04), (40, 0.05), (60, 0.095), (100, 0.235)],
    [(1.17, 0.04), (1.45, 0.06), (1.75, 0.069), (2.6, 0.047), (5.3, 0.032), (6.8, 0.043), (10.5, 0.036), (16, 0.052), (30, 0.043), (42, 0.06), (63, 0.104), (100, 0.246)],
    [(0.115, 0.104), (0.155, 0.058), (0.219, 0.047), (0.347, 0.03), (0.49, 0.021), (0.794, 0.01), (1.35, 0.008), (2.5, 0.006), (5, 0.006), (7, 0.0035), (20, 0.006), (31.6, 0.01), (40, 0.006), (46, 0.014), (63, 0.043), (72, 0.058), (85, 0.034), (100, 0.032), (117, 0.121), (182, 0.287), (204, 0.36), (214, 0.5), (220, 0.6)],
    [(4.3, 0.04), (6, 0.035), (10, 0.035), (14, 0.045), (19, 0.068), (27, 0.075), (35, 0.06), (47, 0.045), (56, 0.035), (72, 0.065), (90, 0.085), (100, 0.055), (125, 0.16), (200, 0.5), (210, 0.6)],
    [(1.17, 0.04), (1.5, 0.062), (2, 0.052), (3.5, 0.04), (5.5, 0.035), (10, 0.032), (15, 0.045), (25, 0.065), (32, 0.07), (40, 0.04), (55, 0.023), (72, 0.07), (87, 0.09), (100, 0.045), (120, 0.1), (200, 0.5), (210, 0.6)],
    [(4.3, 0.042), (6, 0.04), (9, 0.038), (13, 0.03), (19, 0.05), (25, 0.066), (32, 0.07), (40, 0.045), (55, 0.04), (72, 0.07), (89, 0.09), (100, 0.05), (120, 0.12), (170, 0.5), (180, 0.6)],
    [(1.17, 0.04), (1.5, 0.062), (1.8, 0.056), (2.6, 0.043), (3.4, 0.036), (4.3, 0.032), (6.2, 0.038), (11.5, 0.028), (13, 0.023), (21, 0.034), (30, 0.047), (36, 0.034), (42, 0.038), (65, 0.073), (72, 0.089), (95, 0.06), (118, 0.121), (186, 0.5), (195, 0.6)],
    [(4.3, 0.021), (5.7, 0.017), (6.8, 0.025), (8.1, 0.032), (9.5, 0.023), (12.6, 0.028), (16.6, 0.038), (20.4, 0.054), (31.6, 0.038), (35, 0.021), (44, 0.008), (58, 0.006), (76, 0.01), (87, 0.017), (107, 0.038), (132, 0.047), (150, 0.121), (174, 0.296), (195, 0.5), (200, 0.55)],
]
djf_corr = [
    [(0.115, 0.676), (0.13, 0.84), (0.155, 0.685), (0.204, 0.65), (0.25, 0.69), (0.32, 0.79), (0.45, 0.877), (0.69, 0.947), (1, 0.99), (3, 0.995), (9, 0.99), (25, 0.955), (39, 0.895), (55, 0.77), (63, 0.737), (76, 0.825), (81, 0.65), (100, 0.003)],
    [(0.115, 0.92), (0.13, 0.84), (0.151, 0.7), (0.182, 0.66), (0.23, 0.67), (0.32, 0.78), (0.45, 0.87), (0.69, 0.945), (1, 0.99), (3, 0.995), (9, 0.99), (25, 0.955), (39, 0.9), (50, 0.82), (63, 0.65), (79, 0.6), (100, 0.0)],
    [(4.3, 0.975), (8.5, 0.96), (18, 0.895), (22, 0.91), (28, 0.885), (31, 0.94), (45, 0.77), (63, 0.6), (100, -0.33)],
    [(1.17, 0.66), (1.48, 0.93), (1.86, 0.965), (2.2, 0.945), (3, 0.985), (5, 0.99), (10, 0.975), (14, 0.96), (17, 0.93), (24, 0.92), (29, 0.94), (36, 0.825), (51, 0.72), (60, 0.6), (100, -0.38)],
    [(0.115, 0.745), (0.13, 0.94), (0.182, 0.95), (0.3, 0.965), (0.5, 0.99), (1, 1.0), (36, 1.0), (47, 0.99), (58, 0.86), (66, 0.94), (81, 0.95), (96, 0.335), (110, 0.895), (135, 0.95), (190, 0.98), (270, 0.56)],
    [(4.3, 0.97), (12, 0.98), (20, 0.96), (30, 0.98), (40, 0.975), (50, 0.9), (62, 0.72), (80, 0.85), (95, 0.9), (100, 0.92), (120, 0.95), (180, 0.96), (230, 0.96), (270, 0.78)],
    [(1.17, 0.75), (1.6, 0.86), (2.1, 0.9), (3, 0.95), (5, 0.975), (10, 0.975), (15, 0.95), (20, 0.95), (30, 0.97), (40, 0.975), (50, 0.86), (62, 0.72), (75, 0.83), (90, 0.86), (100, 0.88), (125, 0.86), (180, 0.95), (230, 0.96), (270, 0.83)],
    [(4.3, 0.98), (10, 0.975), (18, 0.94), (28, 0.96), (40, 0.975), (52, 0.85), (62, 0.74), (76, 0.82), (90, 0.82), (98, 0.56), (125, 0.85), (180, 0.95), (230, 0.955), (270, 0.7)],
    [(1.17, 0.765), (1.55, 0.877), (2.1, 0.895), (2.8, 0.947), (3.6, 0.975), (10, 0.98), (14, 0.955), (19, 0.94), (25, 0.965), (35, 0.98), (44, 0.95), (51, 0.825), (60, 0.7), (66, 0.81), (81, 0.79), (96, 0.536), (117, 0.825), (135, 0.91), (200, 0.955), (275, 0.745)],
    [(4.3, 0.99), (10, 0.985), (17, 0.965), (20, 0.947), (25, 0.965), (35, 1.0), (50, 0.985), (85, 0.98), (105, 0.895), (120, 0.965), (170, 0.985), (240, 0.975), (300, 0.99), (380, 0.98), (420, 0.947)],
]

rows = [
    [mam_bias, mam_std, mam_corr],
    [jja_bias, jja_std, jja_corr],
    [son_bias, son_std, son_corr],
    [djf_bias, djf_std, djf_corr],
]

W, H = 2067, 3065
fig = plt.figure(figsize=(W / 100, H / 100), dpi=100)

col_left = [161, 844, 1526]
row_top = [75, 757, 1440, 2122]
ax_w, ax_h = 515, 548

grid_col = "#d6d6d6"


def fmt_x(v, pos):
    v = round(v, 3) + 0.0
    return ("%g" % v).replace("-", "\u2212")


for r in range(4):
    for c in range(3):
        ax = fig.add_axes([col_left[c] / W, 1 - (row_top[r] + ax_h) / H, ax_w / W, ax_h / H])
        ax.set_yscale("log")
        ax.set_ylim(418, 0.1)
        if c == 1:
            ax.set_xlim(0, 0.5)
            ax.xaxis.set_major_locator(MultipleLocator(0.1))
            ax.xaxis.set_minor_locator(MultipleLocator(0.05))
        else:
            ax.set_xlim(-1, 1)
            ax.xaxis.set_major_locator(MultipleLocator(0.5))
            ax.xaxis.set_minor_locator(MultipleLocator(0.1))
            ax.axvline(0, color="#cbcbcb", lw=3, zorder=1.5)
        ax.xaxis.set_major_formatter(FuncFormatter(fmt_x))
        ax.yaxis.set_major_locator(FixedLocator([0.1, 1, 10, 100]))
        ax.yaxis.set_major_formatter(LogFormatterMathtext())
        ax.yaxis.set_minor_locator(FixedLocator(
            [m * 10.0 ** e for e in range(-1, 3) for m in range(2, 10) if m * 10.0 ** e <= 418]))
        ax.yaxis.set_minor_formatter(NullFormatter())
        ax.grid(True, which="both", color=grid_col, lw=1.4, zorder=1)
        ax.set_axisbelow(True)

        for s in ax.spines.values():
            s.set_linewidth(1.7)
        ax.tick_params(axis="x", which="both", direction="out", top=True, bottom=True,
                       length=7.5, width=1.5, labelsize=25, pad=8)
        ax.tick_params(axis="y", which="major", direction="inout", left=True, right=True,
                       length=13, width=1.5, labelsize=25, pad=8)
        ax.tick_params(axis="y", which="minor", direction="out", left=True, right=True,
                       length=4.5, width=1.2)

        for k, curve in enumerate(rows[r][c]):
            p, v = zip(*curve)
            ax.plot(v, p, color=series_colors[k], lw=3, zorder=3 + k * 0.01)

        if c == 0:
            ax.set_ylabel("Pressure / hPa", fontsize=26)
            ax.yaxis.set_label_coords(-0.215, 0.5)
        if c == 1:
            ax.text(0.5, 1 + 40 / ax_h, seasons[r], transform=ax.transAxes,
                    ha="center", va="center", fontsize=25.5)
        if r == 3:
            ax.set_xlabel(xlabels[c], fontsize=26)
            ax.xaxis.set_label_coords(0.5, -0.128)
        if r == 0 and c == 1:
            ax.text(0.89, 0.93, "HDO", transform=ax.transAxes, ha="center", va="center",
                    fontsize=27, fontweight="bold", zorder=10,
                    bbox=dict(boxstyle="square,pad=0.22", fc="#ebebeb", ec="black", lw=2))

handles = [plt.Line2D([], [], color=col, lw=3) for col in series_colors]
for half, x0 in ((0, 49), (1, 1044)):
    idx = range(half * 5, half * 5 + 5)
    fig.legend([handles[i] for i in idx], [series_labels[i] for i in idx],
               loc="upper left", bbox_to_anchor=(x0 / W, 1 - 2801 / H),
               frameon=False, fontsize=24.7, borderpad=0, borderaxespad=0,
               handlelength=3.75, handletextpad=0.55, labelspacing=0.65)

fig.savefig("out.png", dpi=100)
